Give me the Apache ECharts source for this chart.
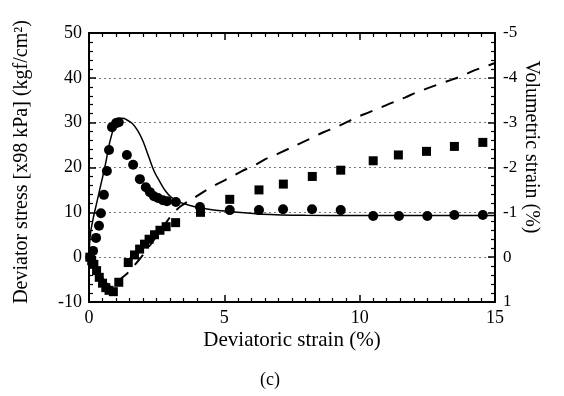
<!DOCTYPE html>
<html>
<head>
<meta charset="utf-8">
<script src="https://cdn.jsdelivr.net/npm/echarts@6/dist/echarts.min.js"></script>
<style>
  html, body { margin: 0; padding: 0; background: #fff; }
  #chart { width: 564px; height: 396px; }
</style>
</head>
<body>
<div id="chart"></div>
<script>
// Measured deviator stress (filled circles, left axis)
const circleStrain = [0.05, 0.15, 0.26, 0.37, 0.44, 0.55, 0.66, 0.74, 0.85, 1.0, 1.1,
  1.4, 1.63, 1.88, 2.1, 2.25, 2.4, 2.55, 2.73, 2.88, 3.21, 4.1,
  5.2, 6.28, 7.17, 8.24, 9.3, 10.5, 11.45, 12.5, 13.5, 14.55];
const circleStress = [0.0, 1.4, 4.3, 7.0, 9.8, 13.9, 19.2, 23.9, 29.0, 29.9, 30.1,
  22.8, 20.6, 17.4, 15.6, 14.5, 13.6, 13.2, 12.7, 12.5, 12.3, 11.2,
  10.5, 10.5, 10.7, 10.7, 10.5, 9.2, 9.2, 9.2, 9.4, 9.4];

// Measured volumetric strain (filled squares, right axis)
const squareStrain = [0.03, 0.1, 0.18, 0.28, 0.38, 0.5, 0.62, 0.74, 0.9, 1.1,
  1.45, 1.68, 1.87, 2.05, 2.22, 2.42, 2.62, 2.85, 3.2, 4.12,
  5.2, 6.28, 7.18, 8.25, 9.3, 10.5, 11.43, 12.47, 13.5, 14.55];
const squareVolStrain = [0.0, 0.08, 0.16, 0.3, 0.45, 0.58, 0.68, 0.74, 0.77, 0.56,
  0.12, -0.05, -0.18, -0.29, -0.4, -0.5, -0.6, -0.68, -0.77, -1.0,
  -1.29, -1.5, -1.63, -1.8, -1.94, -2.15, -2.28, -2.36, -2.47, -2.56];

// Computed deviator stress (solid curve)
const modelStressStrain = [0, 0.05, 0.15, 0.3, 0.45, 0.6, 0.78, 0.95, 1.1, 1.25, 1.4,
  1.6, 1.8, 2.0, 2.2, 2.42, 2.62, 2.82, 3.03, 3.3, 3.7, 4.1, 4.6, 5.2, 6.4, 8, 10, 12, 15];
const modelStress = [0, 5, 8.5, 12.5, 16.5, 20.5, 26, 29.3, 30.8, 31.0, 30.6,
  29.8, 28.2, 25.8, 22.5, 19, 16.8, 14.8, 13.4, 12.4, 11.6, 11.0, 10.5, 10.2, 9.6, 9.35, 9.3, 9.3, 9.3];

// Computed volumetric strain (dashed curve)
const modelVolStrainStrain = [0, 0.2, 0.4, 0.6, 0.8, 0.95, 1.1, 1.4, 1.65, 1.9, 2.2, 2.5,
  2.8, 3.1, 3.4, 3.98, 4.4, 4.8, 5.25, 5.65, 6.06, 6.5, 6.95, 8.23, 8.64, 9.09, 9.52,
  9.89, 10.34, 10.75, 11.18, 11.67, 12.04, 12.52, 12.93, 13.36, 13.77, 14.17, 14.63, 15];
const modelVolStrain = [0, 0.17, 0.37, 0.55, 0.64, 0.62, 0.52, 0.37, 0.2, 0.02, -0.22, -0.47,
  -0.73, -0.97, -1.14, -1.36, -1.52, -1.65, -1.79, -1.92, -2.03, -2.18, -2.3, -2.66, -2.78, -2.89, -3.01,
  -3.12, -3.23, -3.33, -3.44, -3.56, -3.66, -3.77, -3.86, -3.95, -4.04, -4.15, -4.25, -4.33];

const zip = (xs, ys) => xs.map((x, i) => [x, ys[i]]);

const FONT = 'Liberation Serif';
const INK = '#000';

const frameLine = { show: true, onZero: false, lineStyle: { color: INK, width: 2 } };

function xAxisCfg(position, showLabels) {
  return {
    type: 'value', position: position, min: 0, max: 15, interval: 5,
    axisLine: frameLine,
    axisTick: { show: true, inside: true, length: 7, lineStyle: { color: INK, width: 1.5 } },
    minorTick: { show: true, splitNumber: 10, length: 4, lineStyle: { color: INK, width: 1.2 } },
    axisLabel: { show: showLabels, color: INK, fontFamily: FONT, fontSize: 18, margin: 7 },
    splitLine: { show: false }
  };
}

const chart = echarts.init(document.getElementById('chart'), null, { renderer: 'canvas' });

chart.setOption({
  animation: false,
  backgroundColor: '#fff',
  grid: { left: 89, right: 69, top: 33, bottom: 94, containLabel: false },
  xAxis: [xAxisCfg('bottom', true), xAxisCfg('top', false)],
  yAxis: [
    {
      type: 'value', position: 'left', min: -10, max: 50, interval: 10,
      axisLine: frameLine,
      axisTick: { show: true, inside: true, length: 7, lineStyle: { color: INK, width: 1.5 } },
      minorTick: { show: true, splitNumber: 5, length: 4, lineStyle: { color: INK, width: 1.2 } },
      axisLabel: { color: INK, fontFamily: FONT, fontSize: 18, margin: 7 },
      splitLine: { show: true, lineStyle: { color: '#777', width: 1, type: [2, 3] } }
    },
    {
      type: 'value', position: 'right', min: -5, max: 1, interval: 1, inverse: true,
      axisLine: frameLine,
      axisTick: { show: true, inside: true, length: 7, lineStyle: { color: INK, width: 1.5 } },
      minorTick: { show: true, splitNumber: 5, length: 4, lineStyle: { color: INK, width: 1.2 } },
      axisLabel: { color: INK, fontFamily: FONT, fontSize: 17, margin: 8 },
      splitLine: { show: false }
    }
  ],
  graphic: [
    {
      type: 'text', x: 22, y: 162, rotation: Math.PI / 2,
      style: { text: 'Deviator stress [x98 kPa] (kgf/cm²)', fill: INK,
        font: '20px "Liberation Serif"', textAlign: 'center', textVerticalAlign: 'middle' }
    },
    {
      type: 'text', x: 531, y: 147, rotation: -Math.PI / 2,
      style: { text: 'Volumetric strain (%)', fill: INK,
        font: '20px "Liberation Serif"', textAlign: 'center', textVerticalAlign: 'middle' }
    },
    {
      type: 'text', x: 292, y: 340,
      style: { text: 'Deviatoric strain (%)', fill: INK,
        font: '21px "Liberation Serif"', textAlign: 'center', textVerticalAlign: 'middle' }
    },
    {
      type: 'text', x: 270, y: 380,
      style: { text: '(c)', fill: INK,
        font: '18px "Liberation Serif"', textAlign: 'center', textVerticalAlign: 'middle' }
    }
  ],
  series: [
    {
      name: 'Computed deviator stress', type: 'line', xAxisIndex: 0, yAxisIndex: 0,
      data: zip(modelStressStrain, modelStress), smooth: 0.35, showSymbol: false,
      lineStyle: { color: INK, width: 1.5 }, z: 3
    },
    {
      name: 'Computed volumetric strain', type: 'line', xAxisIndex: 0, yAxisIndex: 1,
      data: zip(modelVolStrainStrain, modelVolStrain), smooth: 0.35, showSymbol: false,
      lineStyle: { color: INK, width: 2, type: [13, 10] }, z: 3
    },
    {
      name: 'Measured deviator stress', type: 'scatter', xAxisIndex: 0, yAxisIndex: 0,
      data: zip(circleStrain, circleStress), symbol: 'circle', symbolSize: 10,
      itemStyle: { color: INK, opacity: 1 }, z: 4
    },
    {
      name: 'Measured volumetric strain', type: 'scatter', xAxisIndex: 0, yAxisIndex: 1,
      data: zip(squareStrain, squareVolStrain), symbol: 'rect', symbolSize: 9,
      itemStyle: { color: INK, opacity: 1 }, z: 4
    }
  ]
});
</script>
</body>
</html>
